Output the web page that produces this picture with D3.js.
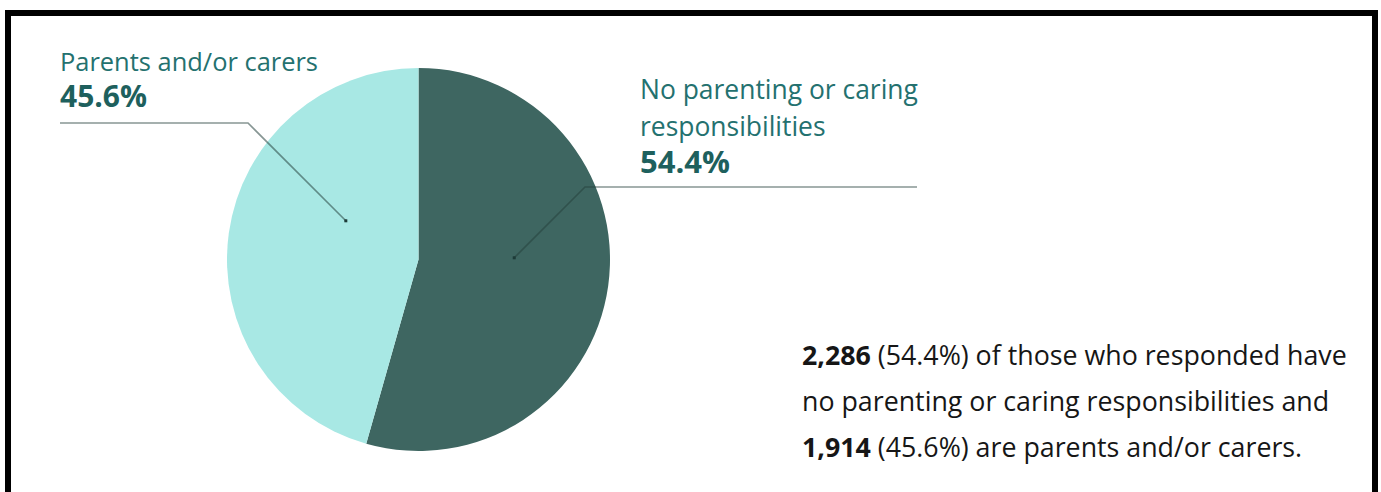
<!DOCTYPE html>
<html>
<head>
<meta charset="utf-8">
<script src="https://cdn.jsdelivr.net/npm/d3@7"></script>
<style>
  html, body { margin: 0; padding: 0; background: #fff; }
  svg { display: block; }
  text { font-family: "Open Sans", "Noto Sans", sans-serif; }
</style>
</head>
<body>
<svg id="chart" width="1381" height="492"></svg>
<script>
// Survey responses: caring responsibilities
const categories = ["No parenting or caring responsibilities", "Parents and/or carers"];
const labelLines = [["No parenting or caring", "responsibilities"], ["Parents and/or carers"]];
const counts = [2286, 1914];
const shares = [54.4, 45.6];
const sliceColors = ["#3e6661", "#a8e8e4"];

const svg = d3.select("#chart");

// fit a text element's font size so it spans the given width; returns the size
function fitWidth(sel, width) {
  const fs = +sel.attr("font-size");
  const w = sel.node().getComputedTextLength();
  const size = +(fs * width / w).toFixed(2);
  sel.attr("font-size", size);
  return size;
}

// outer frame
svg.append("rect")
  .attr("x", 8).attr("y", 13)
  .attr("width", 1367).attr("height", 500)
  .attr("fill", "none").attr("stroke", "#000").attr("stroke-width", 6);

const cx = 418.5, cy = 259.5, R = 191.5;
const g = svg.append("g").attr("transform", `translate(${cx},${cy})`);

const pie = d3.pie().sort(null).value(d => d).startAngle(0).endAngle(2 * Math.PI);
const arcs = pie(shares);
const arc = d3.arc().innerRadius(0).outerRadius(R);

g.selectAll("path.slice")
  .data(arcs)
  .join("path")
  .attr("class", "slice")
  .attr("d", arc)
  .attr("fill", (d, i) => sliceColors[i]);

// leader lines: anchor inside slice -> elbow -> horizontal run under label
const leaders = [
  { angleOffset: -0.156, rFrac: 0.5, elbow: [585, 187], endX: 917 },
  { angleOffset: 0.351, rFrac: 0.43, elbow: [248, 123], endX: 60 }
];

arcs.forEach((d, i) => {
  const L = leaders[i];
  const mid = (d.startAngle + d.endAngle) / 2 + L.angleOffset;
  const p = d3.pointRadial(mid, R * L.rFrac);
  const ax = cx + p[0], ay = cy + p[1];
  svg.append("path")
    .attr("d", d3.line()([[ax, ay], L.elbow, [L.endX, L.elbow[1]]]))
    .attr("fill", "none")
    .attr("stroke", "#243f3c")
    .attr("stroke-opacity", 0.55)
    .attr("stroke-width", 1.6);
  svg.append("rect")
    .attr("x", ax - 1.5).attr("y", ay - 1.5)
    .attr("width", 3).attr("height", 3)
    .attr("fill", "#1d3b38");
});

// slice labels
const labelPos = [
  { x: 640, y: 99, step: 37, w: 278, pw: 90 },
  { x: 60, y: 71, step: 36, w: 258, pw: 87 }
];
arcs.forEach((d, i) => {
  const pos = labelPos[i];
  let size = 22;
  labelLines[i].forEach((line, k) => {
    const t = svg.append("text")
      .attr("x", pos.x)
      .attr("y", pos.y + k * pos.step)
      .attr("fill", "#24716f")
      .attr("font-size", size)
      .text(line);
    if (k === 0) size = fitWidth(t, pos.w);
  });
  const p = svg.append("text")
    .attr("x", pos.x)
    .attr("y", pos.y + labelLines[i].length * pos.step)
    .attr("fill", "#1e605d")
    .attr("font-size", 26)
    .attr("font-weight", 700)
    .text(shares[i].toFixed(1) + "%");
  fitWidth(p, pos.pw);
});

// summary note
const fmt = d3.format(",");
const note = [
  [{ b: fmt(counts[0]) }, { t: ` (${shares[0]}%) of those who responded have` }],
  [{ t: "no parenting or caring responsibilities and" }],
  [{ b: fmt(counts[1]) }, { t: ` (${shares[1]}%) are parents and/or carers.` }]
];
const noteLines = note.map((parts, k) => {
  const t = svg.append("text")
    .attr("x", 802).attr("y", 365 + k * 46)
    .attr("font-size", 21)
    .attr("fill", "#161616");
  parts.forEach(p => {
    if (p.b) t.append("tspan").attr("font-weight", 700).text(p.b);
    else t.append("tspan").text(p.t);
  });
  return t;
});
const noteSize = fitWidth(noteLines[0], 545);
noteLines.forEach(t => t.attr("font-size", noteSize));
</script>
</body>
</html>
